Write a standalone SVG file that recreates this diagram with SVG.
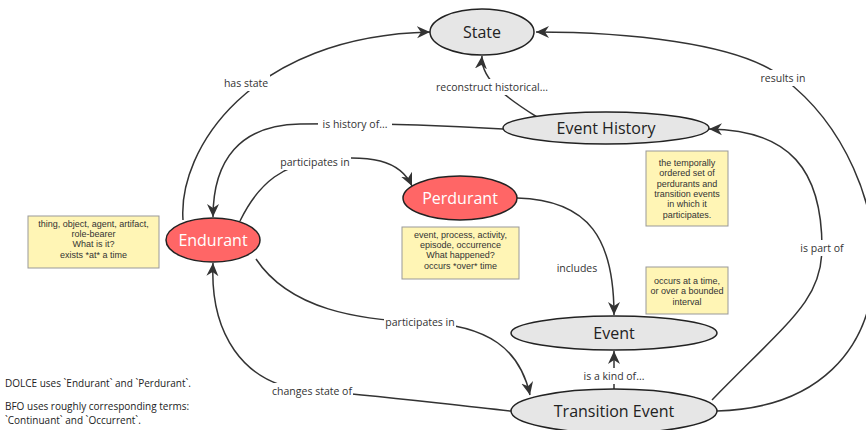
<svg xmlns="http://www.w3.org/2000/svg" width="866" height="430" viewBox="0 0 866 430">
  <defs>
    <marker id="arrow" markerUnits="userSpaceOnUse" markerWidth="14" markerHeight="14" viewBox="0 0 14 14" refX="13" refY="7" orient="auto">
      <path d="M0,1 L13,7 L0,13 L4,7 z" fill="#333"/>
    </marker>
    <style>
      .edge { fill: none; stroke: #333; stroke-width: 1.5; }
      .lbl { font-family: "Open Sans", "Noto Sans", sans-serif; font-size: 10.5px; fill: #333; text-anchor: middle; dominant-baseline: central; }
      .lblbg { fill: #fff; }
      .node { fill: #e6e6e6; stroke: #222; stroke-width: 1.5; }
      .hot { fill: #ff6666; stroke: #222; stroke-width: 1.5; }
      .ntext { font-family: "Open Sans", "Noto Sans", sans-serif; font-size: 16px; fill: #222; text-anchor: middle; dominant-baseline: central; }
      .htext { font-family: "Open Sans", "Noto Sans", sans-serif; font-size: 16px; fill: #fff; text-anchor: middle; dominant-baseline: central; }
      .note { fill: #fff5b5; stroke: #999; stroke-width: 1; }
      .ntxt { font-family: "Liberation Sans", Arial, sans-serif; font-size: 9px; fill: #333; text-anchor: middle; dominant-baseline: central; }
      .side { font-family: "Open Sans", "Noto Sans", sans-serif; font-size: 10px; fill: #222; }
    </style>
  </defs>

  <g id="connectors">
    <!-- has state -->
    <path class="edge" d="M183,220 C 178,150 250,36 430,32" marker-end="url(#arrow)"/>
    <!-- reconstruct historical... -->
    <path class="edge" d="M537,117 C 510,100 480,80 482,56" marker-end="url(#arrow)"/>
    <!-- is history of... -->
    <path class="edge" d="M503,129 C 420,124 360,123 300,124 C 240,125 213,160 213,217" marker-end="url(#arrow)"/>
    <!-- participates in (to Perdurant) -->
    <path class="edge" d="M240,221 C 260,180 285,165 320,160 C 370,154 400,160 412,186" marker-end="url(#arrow)"/>
    <!-- includes -->
    <path class="edge" d="M517,198 C 590,200 614,240 614,315" marker-end="url(#arrow)"/>
    <!-- participates in (to Transition Event) -->
    <path class="edge" d="M256,259 C 290,310 360,320 420,322 C 490,325 520,350 530,395" marker-end="url(#arrow)"/>
    <!-- is a kind of... -->
    <path class="edge" d="M614,389 L 614,351" marker-end="url(#arrow)"/>
    <!-- changes state of -->
    <path class="edge" d="M511,411 C 440,404 370,394 312,391 C 240,386 210,330 213,263" marker-end="url(#arrow)"/>
    <!-- results in -->
    <path class="edge" d="M717,411 C 925,405 905,170 783,78 C 740,42 620,32 536,32" marker-end="url(#arrow)"/>
    <!-- is part of -->
    <path class="edge" d="M712,400 C 790,320 822,300 822,248 C 822,170 790,130 709,129" marker-end="url(#arrow)"/>
  </g>

  <g id="edge-labels">
    <rect class="lblbg" x="222" y="75" width="48" height="16"/>
    <text class="lbl" x="246" y="83">has state</text>
    <rect class="lblbg" x="433" y="79" width="118" height="16"/>
    <text class="lbl" x="492" y="87">reconstruct historical...</text>
    <rect class="lblbg" x="318" y="116" width="74" height="16"/>
    <text class="lbl" x="355" y="124">is history of...</text>
    <rect class="lblbg" x="280" y="154" width="71" height="16"/>
    <text class="lbl" x="315" y="162">participates in</text>
    <rect class="lblbg" x="556" y="260" width="42" height="16"/>
    <text class="lbl" x="577" y="268">includes</text>
    <rect class="lblbg" x="384" y="314" width="72" height="16"/>
    <text class="lbl" x="420" y="322">participates in</text>
    <rect class="lblbg" x="582" y="368" width="64" height="16"/>
    <text class="lbl" x="614" y="376">is a kind of...</text>
    <rect class="lblbg" x="271" y="383" width="82" height="16"/>
    <text class="lbl" x="312" y="391">changes state of</text>
    <rect class="lblbg" x="760" y="70" width="46" height="16"/>
    <text class="lbl" x="783" y="78">results in</text>
    <rect class="lblbg" x="800" y="240" width="44" height="16"/>
    <text class="lbl" x="822" y="248">is part of</text>
  </g>

  <g id="state">
    <ellipse class="node" cx="482" cy="32" rx="52" ry="23"/>
    <text class="ntext" x="482" y="32">State</text>
  </g>
  <g id="event-history">
    <ellipse class="node" cx="606" cy="128" rx="103" ry="16"/>
    <text class="ntext" x="606" y="128">Event History</text>
  </g>
  <g id="endurant">
    <ellipse class="hot" cx="213" cy="240" rx="47" ry="22"/>
    <text class="htext" x="213" y="240">Endurant</text>
  </g>
  <g id="perdurant">
    <ellipse class="hot" cx="460" cy="198" rx="57" ry="22"/>
    <text class="htext" x="460" y="198">Perdurant</text>
  </g>
  <g id="event">
    <ellipse class="node" cx="614" cy="333" rx="103" ry="17"/>
    <text class="ntext" x="614" y="333">Event</text>
  </g>
  <g id="transition-event">
    <ellipse class="node" cx="614" cy="411" rx="103" ry="22"/>
    <text class="ntext" x="614" y="411">Transition Event</text>
  </g>

  <g id="note-endurant">
    <rect class="note" x="28" y="216" width="131" height="52"/>
    <text class="ntxt" x="93.5" y="224">thing, object, agent, artifact,</text>
    <text class="ntxt" x="93.5" y="234">role-bearer</text>
    <text class="ntxt" x="93.5" y="244">What is it?</text>
    <text class="ntxt" x="93.5" y="255">exists *at* a time</text>
  </g>
  <g id="note-perdurant">
    <rect class="note" x="402" y="227" width="117" height="52"/>
    <text class="ntxt" x="460.5" y="235">event, process, activity,</text>
    <text class="ntxt" x="460.5" y="245">episode, occurrence</text>
    <text class="ntxt" x="460.5" y="255">What happened?</text>
    <text class="ntxt" x="460.5" y="266">occurs *over* time</text>
  </g>
  <g id="note-history">
    <rect class="note" x="646" y="151" width="82" height="75"/>
    <text class="ntxt" x="687" y="163">the temporally</text>
    <text class="ntxt" x="687" y="173">ordered set of</text>
    <text class="ntxt" x="687" y="184">perdurants and</text>
    <text class="ntxt" x="687" y="194">transition events</text>
    <text class="ntxt" x="687" y="204">in which it</text>
    <text class="ntxt" x="687" y="215">participates.</text>
  </g>
  <g id="note-event">
    <rect class="note" x="646" y="267" width="82" height="47"/>
    <text class="ntxt" x="687" y="281">occurs at a time,</text>
    <text class="ntxt" x="687" y="291">or over a bounded</text>
    <text class="ntxt" x="687" y="302">interval</text>
  </g>

  <g id="terminology">
    <text class="side" x="5" y="387">DOLCE uses `Endurant` and `Perdurant`.</text>
    <text class="side" x="5" y="410">BFO uses roughly corresponding terms:</text>
    <text class="side" x="5" y="424">`Continuant` and `Occurrent`.</text>
  </g>
</svg>
